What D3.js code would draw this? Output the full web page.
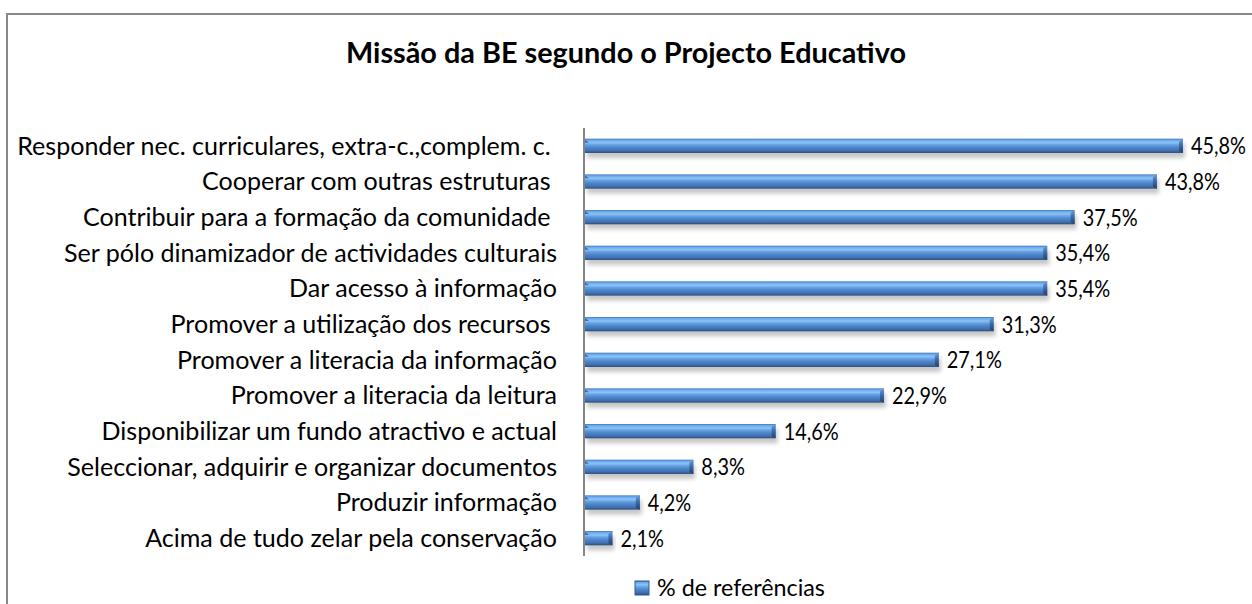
<!DOCTYPE html>
<html>
  <head>
    <meta charset="utf-8">
    <script src="https://d3js.org/d3.v7.min.js"></script>
    <style>
    body { margin: 0; background-color: #fff; }
    text { font-family: Lato, "Open Sans", sans-serif; fill: #000; }
    </style>
    <title>Missão da BE</title>
  </head>
  <body>
    <div class="chart"></div>
    <script>

      var categories = [
        "Responder nec. curriculares, extra-c.,complem. c. ",
        "Cooperar com outras estruturas ",
        "Contribuir para a formação da comunidade ",
        "Ser pólo dinamizador de actividades culturais",
        "Dar acesso à informação",
        "Promover a utilização dos recursos ",
        "Promover a literacia da informação",
        "Promover a literacia da leitura",
        "Disponibilizar um fundo atractivo e actual",
        "Seleccionar, adquirir e organizar documentos",
        "Produzir informação",
        "Acima de tudo zelar pela conservação"
      ];
      var values = [45.8, 43.8, 37.5, 35.4, 35.4, 31.3, 27.1, 22.9, 14.6, 8.3, 4.2, 2.1];
      var seriesName = "% de referências";
      var title = "Missão da BE segundo o Projecto Educativo";

      var width = 1252, height = 604;

      var svg = d3.select('.chart').append('svg')
          .attr('width', width)
          .attr('height', height);

      var defs = svg.append('defs');
      var grad = defs.append('linearGradient')
          .attr('id', 'barGrad')
          .attr('x1', 0).attr('y1', 0).attr('x2', 0).attr('y2', 1);
      [[0, '#3a72b8'], [0.1, '#6aa8ec'], [0.28, '#8cc4f6'], [0.42, '#68a2e4'],
       [0.6, '#4f88cc'], [0.85, '#3f6fae'], [1, '#2a4b78']].forEach(function(s) {
        grad.append('stop').attr('offset', s[0]).attr('stop-color', s[1]);
      });
      var capGrad = defs.append('linearGradient')
          .attr('id', 'capGrad')
          .attr('x1', 0).attr('y1', 0).attr('x2', 0).attr('y2', 1);
      [[0, '#6a9cd8'], [0.5, '#3a68a6'], [1, '#22406a']].forEach(function(s) {
        capGrad.append('stop').attr('offset', s[0]).attr('stop-color', s[1]);
      });
      defs.append('filter').attr('id', 'shadow')
          .attr('x', '-5%').attr('y', '-50%').attr('width', '110%').attr('height', '200%')
        .append('feGaussianBlur').attr('stdDeviation', 2);

      // frame
      svg.append('rect')
          .attr('x', 7).attr('y', 14)
          .attr('width', 1300).attr('height', 700)
          .attr('fill', 'none')
          .attr('stroke', '#888')
          .attr('stroke-width', 2);

      // title
      var t = svg.append('text')
          .attr('x', 626).attr('y', 63)
          .attr('text-anchor', 'middle')
          .attr('font-weight', 'bold')
          .attr('font-size', 24)
          .text(title);
      var tw = t.node().getComputedTextLength();
      t.attr('font-size', 24 * 560 / tw);

      var x = d3.scaleLinear()
          .domain([0, 45.8])
          .range([585, 1183]);

      var y = d3.scaleBand()
          .domain(categories)
          .range([128, 556])
          .paddingInner(0.6)
          .paddingOuter(0.3);

      // category labels
      var labels = svg.append('g')
          .attr('font-size', 20)
          .selectAll('text')
          .data(categories)
          .enter().append('text')
          .attr('x', 557)
          .attr('y', function(d) { return y(d) + y.bandwidth() / 2; })
          .attr('dy', '0.35em')
          .attr('text-anchor', 'end')
          .attr('xml:space', 'preserve')
          .style('white-space', 'pre')
          .text(function(d) { return d; });
      var lw = labels.nodes()[0].getComputedTextLength();
      var fs = 20 * 540 / lw;
      labels.attr('font-size', fs);

      // axis line
      svg.append('line')
          .attr('x1', 584).attr('x2', 584)
          .attr('y1', 128).attr('y2', 556)
          .attr('stroke', '#868686')
          .attr('stroke-width', 2);

      var bars = svg.append('g').selectAll('g')
          .data(values)
          .enter().append('g');

      bars.append('rect')
          .attr('x', x(0) + 2)
          .attr('y', function(d, i) { return y(categories[i]) + 5; })
          .attr('width', function(d) { return x(d) - x(0); })
          .attr('height', y.bandwidth())
          .attr('fill', '#000')
          .attr('opacity', 0.22)
          .attr('filter', 'url(#shadow)');

      bars.append('rect')
          .attr('x', x(0))
          .attr('y', function(d, i) { return y(categories[i]); })
          .attr('width', function(d) { return x(d) - x(0); })
          .attr('height', y.bandwidth())
          .attr('fill', 'url(#barGrad)');

      // bevelled end cap
      bars.append('path')
          .attr('d', function(d, i) {
            var x1 = x(d), y0 = y(categories[i]), h = y.bandwidth();
            return 'M' + (x1 - 4) + ',' + (y0 + 3) + 'L' + x1 + ',' + y0 +
                   'L' + x1 + ',' + (y0 + h) + 'L' + (x1 - 4) + ',' + (y0 + h - 2) + 'Z';
          })
          .attr('fill', 'url(#capGrad)');

      // start bevel
      bars.append('path')
          .attr('d', function(d, i) {
            var x0 = x(0), y0 = y(categories[i]);
            return 'M' + x0 + ',' + (y0 + 1) + 'L' + (x0 + 4) + ',' + (y0 + 4) +
                   'L' + x0 + ',' + (y0 + 4) + 'Z';
          })
          .attr('fill', '#3a6fb0');

      // value labels, narrowed horizontally (Calibri is narrower than Lato)
      var vfs = fs * 0.95;
      var valueLabels = bars.append('text')
          .attr('dy', '0.35em')
          .attr('font-size', vfs)
          .text(function(d) { return d.toFixed(1).replace('.', ',') + '%'; });
      var squeeze = 55 / valueLabels.nodes()[0].getComputedTextLength();
      valueLabels.attr('transform', function(d, i) {
        return 'translate(' + (x(d) + 8) + ',' + (y(categories[i]) + y.bandwidth() / 2) +
               ') scale(' + squeeze + ',1)';
      });

      // legend
      var legend = svg.append('g');
      legend.append('rect')
          .attr('x', 635).attr('y', 581)
          .attr('width', 14).attr('height', 14)
          .attr('fill', 'url(#barGrad)')
          .attr('stroke', '#2c5d9c')
          .attr('stroke-width', 1);
      var lt = legend.append('text')
          .attr('dy', '0.35em')
          .attr('font-size', vfs)
          .text(seriesName);
      lt.attr('transform', 'translate(657,588) scale(' + (168 / lt.node().getComputedTextLength()) + ',1)');

    </script>
  </body>
</html>
